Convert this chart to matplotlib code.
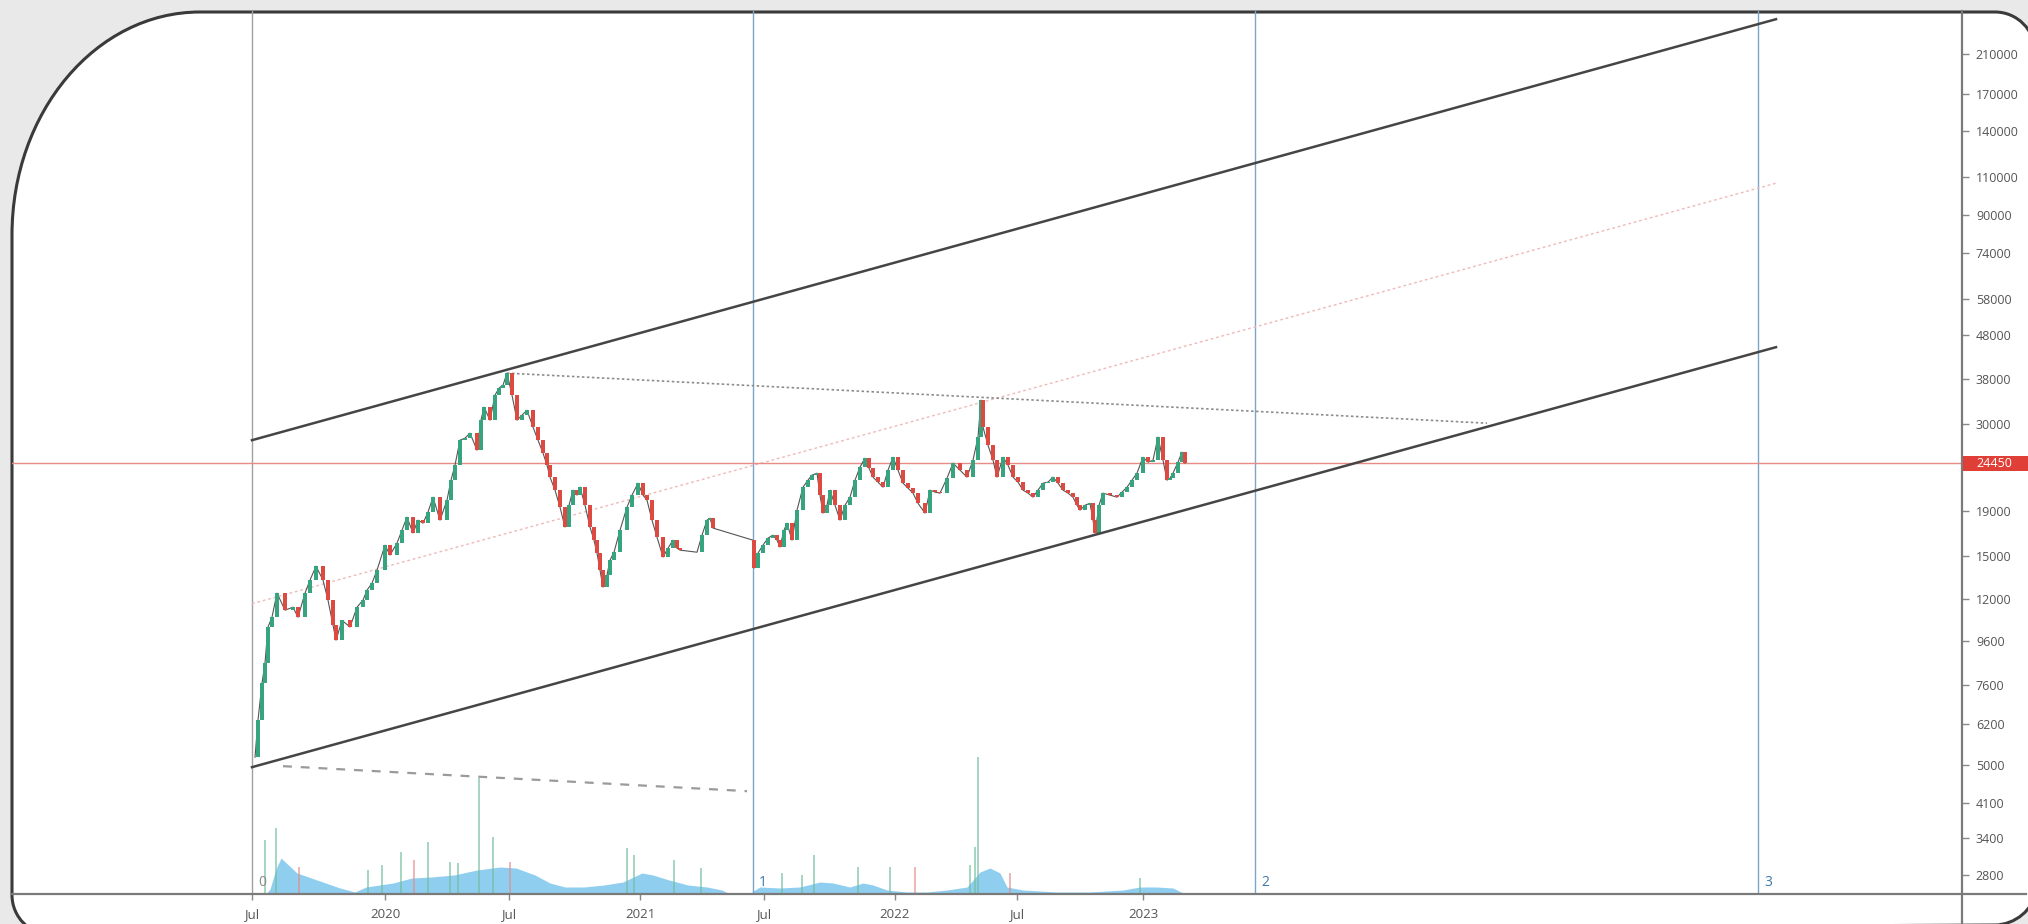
import numpy as np
import matplotlib
matplotlib.use("Agg")
import matplotlib.pyplot as plt
from matplotlib.path import Path
from matplotlib.patches import PathPatch, Rectangle
from matplotlib.lines import Line2D
from matplotlib.transforms import Affine2D, blended_transform_factory

# x axis = trading session number, session 0 = first bar (early Jul 2019)
sessions = [3, 6, 10, 13, 16, 20, 25, 33, 41, 46, 53, 58, 64, 71, 76, 81, 84, 90, 98, 105,
            111, 115, 120, 125, 133, 138, 145, 150, 155, 161, 166, 171, 176, 181, 188, 195, 199, 203, 208, 213,
            218, 225, 229, 232, 238, 243, 247, 251, 255, 260, 265, 270, 275, 281, 286, 291, 295, 298, 303, 308,
            313, 317, 321, 325, 328, 333, 338, 342, 345, 348, 351, 355, 358, 362, 368, 375, 380, 386, 391, 395,
            400, 405, 411, 416, 421, 425, 428, 445, 450, 455, 458, 461, 501, 502, 506, 511, 516, 521, 525, 528,
            532, 535, 540, 545, 551, 556, 560, 565, 568, 571, 575, 578, 583, 588, 593, 598, 603, 608, 613, 617,
            621, 626, 631, 636, 641, 646, 651, 656, 661, 666, 673, 678, 683, 688, 695, 701, 708, 715, 721, 726,
            729, 731, 736, 741, 745, 751, 756, 761, 766, 771, 776, 781, 786, 791, 796, 801, 806, 811, 816, 821,
            825, 828, 833, 838, 841, 843, 847, 851, 858, 865, 870, 875, 880, 885, 891, 896, 901, 906, 911, 915,
            918, 921, 926, 930, 933]
closes = [5210, 6330, 7690, 8550, 10330, 10880, 12350, 11290, 11470, 10880, 12350, 13220, 14230, 13220, 11900, 10430, 9640, 10700, 10330, 11470,
          11900, 12540, 13010, 13930, 15890, 15080, 16060, 17190, 18410, 16930, 18120, 17840, 18900, 20450, 18120, 20130, 22360, 24200, 27590, 27890,
          28630, 26180, 30650, 32830, 30650, 34960, 36270, 36850, 39250, 34960, 30650, 31470, 32300, 29550, 27590, 25780, 24200, 22720, 21220, 19400,
          17470, 19600, 21220, 20670, 21550, 19600, 17470, 16310, 15240, 13930, 12740, 13570, 14680, 15310, 17190, 19400, 20670, 22010, 20670, 20130,
          18120, 16570, 14920, 15640, 16310, 15640, 15480, 15310, 16750, 18120, 18310, 17380, 16310, 14080, 15240, 15890, 16490, 16750, 16310, 15730,
          17190, 17840, 16310, 19100, 21550, 22360, 22960, 23200, 20670, 18800, 19600, 21220, 19600, 18120, 19600, 20450, 22360, 23950, 25100, 23820,
          22720, 22130, 21550, 23570, 25230, 23570, 22010, 21440, 20890, 19800, 18800, 21220, 21000, 20890, 22600, 24450, 23570, 22720, 24840, 28040,
          34050, 29550, 26880, 24840, 22720, 25230, 24200, 22720, 22130, 21220, 20890, 20450, 21220, 22010, 22130, 22720, 22010, 21220, 20890, 20450,
          19600, 19100, 19600, 19800, 18120, 16930, 19600, 20890, 20670, 20450, 21000, 21550, 22360, 23200, 25230, 24580, 24840, 28040, 24840, 22360,
          22600, 23200, 24580, 25910, 24450]
last_price = 24450

# volume (x100k shares): moving-average area and the tall single-day spikes
vol_ma_sessions = [14, 18, 24, 29, 45, 65, 88, 103, 114, 141, 160, 179, 202, 225, 248, 264, 283, 298, 313, 332,
                   352, 371, 390, 401, 417, 436, 455, 470, 476, 478, 499, 501, 508, 528, 548, 568, 581, 598, 611, 621,
                   635, 655, 675, 695, 715, 728, 738, 748, 755, 771, 805, 838, 871, 888, 905, 921, 931]
vol_ma = [0, 0.5, 2.5, 3.6, 2.1, 1.4, 0.6, 0.2, 0.7, 1.1, 1.6, 1.7, 1.9, 2.4, 2.7, 2.6, 1.9, 1.1, 0.7, 0.7,
          0.9, 1.2, 2.1, 1.9, 1.4, 0.9, 0.7, 0.4, 0.1, 0, 0, 0.3, 0.7, 0.6, 0.7, 1.2, 1.1, 0.7, 1.1, 0.9,
          0.4, 0.2, 0.2, 0.4, 0.7, 2.2, 2.6, 2.1, 0.7, 0.4, 0.2, 0.2, 0.4, 0.7, 0.7, 0.6, 0.1]
spike_sessions = [13, 24, 47, 116, 130, 149, 162, 176, 198, 206, 227, 241, 258, 375, 382, 422, 449,
                  530, 550, 562, 606, 638, 663, 718, 723, 726, 758, 888]
spike_vol = [5.4, 6.6, 2.7, 2.4, 2.9, 4.2, 3.4, 5.2, 3.2, 3.1, 11.6, 5.7, 3.2, 4.6, 3.9, 3.4, 2.6,
             2.1, 1.9, 3.9, 2.7, 2.7, 2.7, 2.9, 4.7, 13.7, 2.1, 1.6]

price_ticks = [2800, 3400, 4100, 5000, 6200, 7600, 9600, 12000, 15000, 19000,
               30000, 38000, 48000, 58000, 74000, 90000, 110000, 140000, 170000, 210000]
date_tick_sessions = [0, 133, 257, 388, 512, 643, 765, 891]
date_tick_labels = ["Jul", "2020", "Jul", "2021", "Jul", "2022", "Jul", "2023"]

# drawings
fib_sessions = [0, 501, 1003, 1506]
fib_labels = ["0", "1", "2", "3"]
chan_x = [0, 1524]
chan_upper = [27590, 252300]
chan_lower = [4946, 44990]
peak_line_x = [255, 1235]
peak_line_y = [39250, 30170]
vol_trend_x = [31, 495]
vol_trend_y = [4972, 4360]

W, H = 2028, 924
fig = plt.figure(figsize=(W / 100, H / 100), dpi=100)
fig.patch.set_facecolor("#e9e9e9")
plt.rcParams["font.family"] = ["Open Sans", "DejaVu Sans"]

# rounded frame of the screenshot (pixel coords, y downwards)
k = 0.5523
pts = [(52, 935), (52 - 40 * k, 935), (12, 895 + 40 * k), (12, 895),
       (12, 235), (12, 235 - 223 * k), (200 - 188 * k, 12), (200, 12),
       (1995, 12), (1995 + 40 * k, 12), (2035, 52 - 40 * k), (2035, 52),
       (2035, 890), (2035, 890 + 35 * k), (1995 + 35 * k, 925), (1995, 925),
       (52, 935)]
codes = [Path.MOVETO, Path.CURVE4, Path.CURVE4, Path.CURVE4,
         Path.LINETO, Path.CURVE4, Path.CURVE4, Path.CURVE4,
         Path.LINETO, Path.CURVE4, Path.CURVE4, Path.CURVE4,
         Path.LINETO, Path.CURVE4, Path.CURVE4, Path.CURVE4,
         Path.CLOSEPOLY]
pix = Affine2D().scale(1, -1).translate(0, H).scale(1 / W, 1 / H) + fig.transFigure
frame = PathPatch(Path(pts, codes), facecolor="white", edgecolor="#3a3a3a", lw=2.2,
                  transform=pix, zorder=-1)
fig.add_artist(frame)

ax = fig.add_axes([12 / W, 30 / H, 1950 / W, 883 / H])
ax.set_facecolor("none")
for sp in ax.spines.values():
    sp.set_visible(False)
ax.set_yscale("log")
ax.set_ylim(2539, 263400)
ax.set_xlim(-240, 1710)

# volume pane on a twin axis
axv = ax.twinx()
axv.set_ylim(0, 88.3)
axv.set_axis_off()
axv.set_zorder(ax.get_zorder() - 0.5)
axv.fill_between(vol_ma_sessions, vol_ma, color="#55b4e8", alpha=0.65, lw=0)
for s, v in zip(spike_sessions, spike_vol):
    up = np.interp(s, sessions, closes) >= np.interp(s - 4, sessions, closes)
    axv.bar(s, v, width=1.6, color="#6dbd9c" if up else "#e58a8a", alpha=0.6, lw=0)

# price: thin connecting line plus candle bodies
ax.plot(sessions, closes, color="#555555", lw=0.8, zorder=3)
for i in range(1, len(sessions)):
    if sessions[i] - sessions[i - 1] > 12:
        continue
    o, c = closes[i - 1], closes[i]
    col = "#36a47f" if c >= o else "#dd4a42"
    ax.bar(sessions[i], abs(c - o), bottom=min(o, c), width=3.2, color=col, lw=0, zorder=4)

# channel
ax.plot(chan_x, chan_upper, color="#454545", lw=1.8, zorder=5)
ax.plot(chan_x, chan_lower, color="#454545", lw=1.8, zorder=5)
ax.plot(chan_x, np.sqrt(np.array(chan_upper) * np.array(chan_lower)), color="#f0b9b9",
        lw=1.0, ls=(0, (2, 2)), zorder=2)
ax.plot(peak_line_x, peak_line_y, color="#8c8c8c", lw=1.2, ls=(0, (1.5, 1.5)), zorder=2)
ax.plot(vol_trend_x, vol_trend_y, color="#9a9a9a", lw=1.6, ls=(0, (4, 4)), zorder=2)

# fibonacci time zones
for s, lab in zip(fib_sessions, fib_labels):
    col = "#a0a0a0" if lab == "0" else "#7aa5c8"
    ax.axvline(s, color=col, lw=1.0, zorder=1)
    ax.text(s + 6, 0.004, lab, transform=blended_transform_factory(ax.transData, ax.transAxes),
            color="#8a8a8a" if lab == "0" else "#3f78a8", fontsize=10, ha="left", va="bottom")

# last price line and label
ax.axhline(last_price, color="#e88a85", lw=1.0, zorder=2)
tr = blended_transform_factory(fig.transFigure, ax.transData)
fig.add_artist(Rectangle((1963 / W, last_price / 1.04), 65 / W, last_price * 1.04 - last_price / 1.04,
                         transform=tr, facecolor="#df3f37", edgecolor="none", zorder=6))
fig.text(1976 / W, 0, str(last_price), transform=tr, color="white", fontsize=9,
         ha="left", va="center", zorder=7).set_y(last_price)

# axes ticks
ax.yaxis.tick_right()
ax.set_yticks(price_ticks)
ax.set_yticklabels([str(v) for v in price_ticks])
ax.yaxis.set_minor_locator(matplotlib.ticker.NullLocator())
ax.tick_params(axis="y", which="major", length=5, width=1, color="#888888",
               labelcolor="#555555", labelsize=9, pad=5)
ax.set_xticks(date_tick_sessions)
ax.set_xticklabels(date_tick_labels)
ax.tick_params(axis="x", length=4, width=1, color="#888888", labelcolor="#555555",
               labelsize=9.5, pad=6)

# scale lines of the screenshot
fig.add_artist(Line2D([12 / W, 2026 / W], [30 / H, 30 / H], color="#7a7a7a", lw=1.6, zorder=5))
fig.add_artist(Line2D([1962 / W, 1962 / W], [0, 913 / H], color="#7a7a7a", lw=1.6, zorder=5))

fig.savefig("out.png", dpi=100, facecolor=fig.get_facecolor())
